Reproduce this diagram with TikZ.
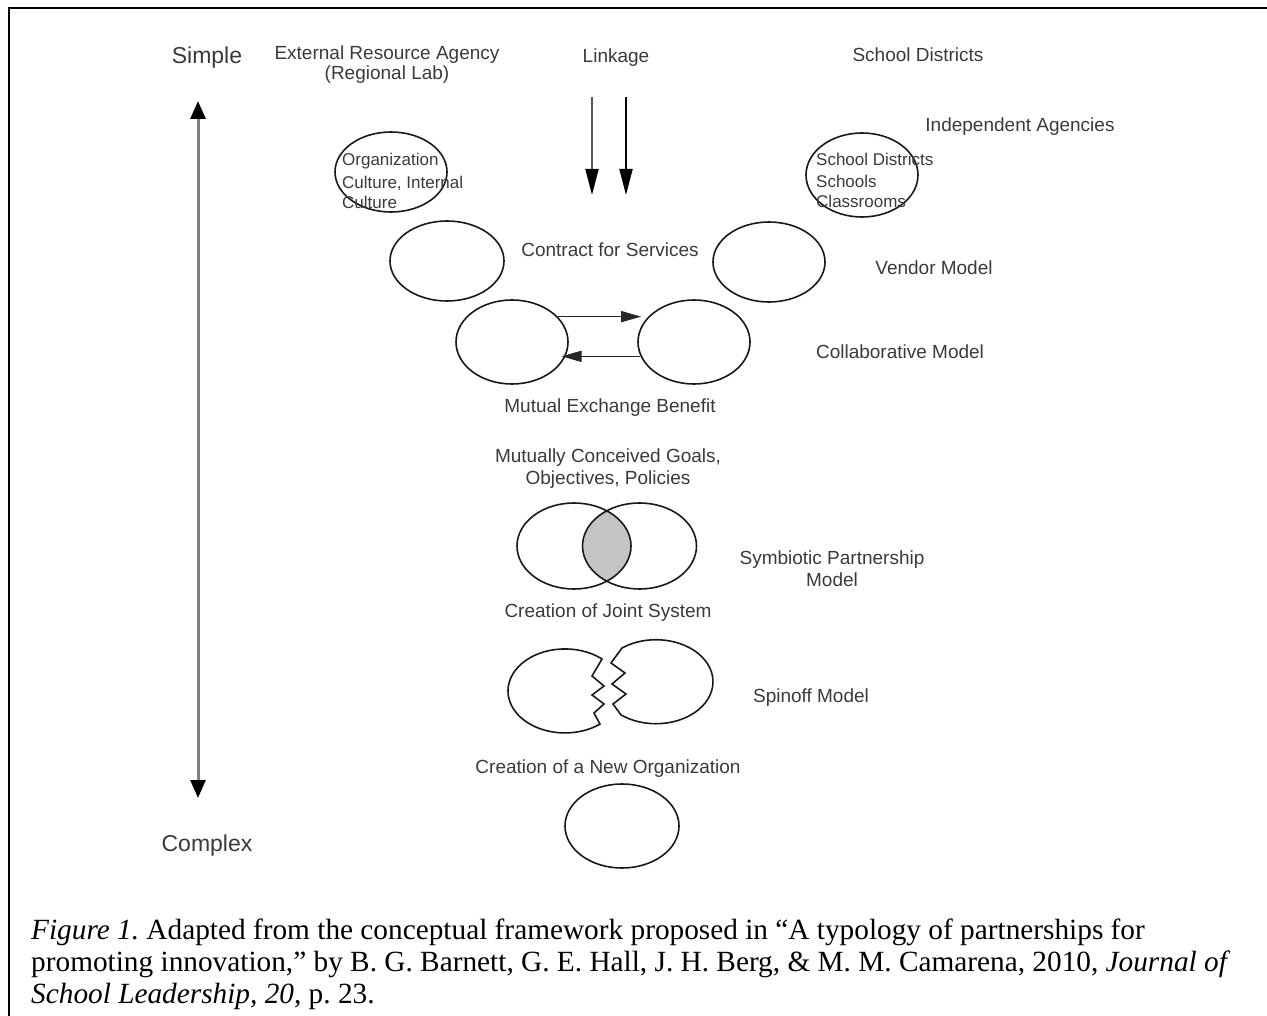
\documentclass[tikz,border=0pt]{standalone}
\usepackage{fontspec}
\setmainfont{Liberation Serif}
\newfontfamily\labfont{Liberation Sans}
\usetikzlibrary{arrows.meta,shapes.geometric}
\definecolor{labgray}{HTML}{3A3A3A}
\definecolor{venngray}{HTML}{C4C4C4}
\frenchspacing
\begin{document}
\begin{tikzpicture}[x=1pt,y=-1pt,
  labtext/.style={font=\labfont\fontsize{19}{22}\selectfont, text=labgray, inner sep=0, anchor=base},
  bigtext/.style={font=\labfont\fontsize{23}{26}\selectfont, text=labgray, inner sep=0, anchor=base},
  smalltext/.style={font=\labfont\fontsize{17}{20}\selectfont, text=labgray, inner sep=0, anchor=base west},
  captext/.style={font=\fontsize{29.3}{33}\selectfont, inner sep=0, anchor=base west},
  ell/.style={ellipse, draw=black!90, line width=1.6pt, minimum width=112pt, minimum height=82pt, inner sep=0},
  outl/.style={draw=black!90, line width=1.6pt, line join=miter},
  arr/.style={line width=1.6pt, draw=black!85},
]
\useasboundingbox (0,0) rectangle (1267,1016);
% frame
\draw[line width=2.5pt] (9,1016) -- (9,8) -- (1267,8);

% top labels
\node[bigtext] (simple) at (207,64) {Simple};
\node[labtext] (era1) at (387,60) {External Resource Agency};
\node[labtext] (era2) at (387,80) {(Regional Lab)};
\node[labtext] (linkage) at (616,63) {Linkage};
\node[labtext] (sd) at (918,62) {School Districts};
\node[labtext] (ia) at (1020,132) {Independent Agencies};
\node[bigtext] (complex) at (207,851) {Complex};

% vertical axis arrow
\coordinate (vtop) at (198,101);
\coordinate (vbot) at (198,798);
\draw[draw=black!50, line width=3pt,
  {Triangle[length=18pt,width=15pt,color=black]}-{Triangle[length=18pt,width=15pt,color=black]}] (vtop) -- (vbot);

% linkage arrows
\coordinate (lk1s) at (592,97); \coordinate (lk1e) at (592,195);
\coordinate (lk2s) at (626,97); \coordinate (lk2e) at (626,195);
\draw[line width=1.8pt, draw=black!65, -{Triangle[length=26pt,width=13pt,color=black]}] (lk1s) -- (lk1e);
\draw[line width=1.8pt, draw=black, -{Triangle[length=26pt,width=13pt,color=black]}] (lk2s) -- (lk2e);

% small ellipses with text
\node[ell, minimum width=112pt, minimum height=80pt] (org) at (391,172) {};
\node[smalltext] (org1) at (342,166) {Organization};
\node[smalltext] (org2) at (342,189) {Culture, Internal};
\node[smalltext] (org3) at (342,209) {Culture};
\node[ell, minimum width=112pt, minimum height=84pt] (sch) at (862,175) {};
\node[smalltext] (sch1) at (816,166) {School Districts};
\node[smalltext] (sch2) at (816,188) {Schools};
\node[smalltext] (sch3) at (816,208) {Classrooms};

% vendor model
\node[ell, minimum width=114pt, minimum height=80pt] (conL) at (447,261) {};
\node[ell, minimum width=112pt, minimum height=80pt] (conR) at (769,262) {};
\node[labtext] (contract) at (610,257) {Contract for Services};
\node[labtext] (vendor) at (934,275) {Vendor Model};

% collaborative model
\node[ell, minimum width=112pt, minimum height=84pt] (colL) at (512,342) {};
\node[ell, minimum width=112pt, minimum height=84pt] (colR) at (694,342) {};
\draw[arr, -{Triangle[length=20pt,width=11pt]}] (colL.29) -- ([xshift=4pt]colL.29 -| colR.west);
\draw[arr, -{Triangle[length=20pt,width=11pt]}] (colR.195) -- ([xshift=-4pt]colL.-15);
\node[labtext] (meb) at (610,412) {Mutual Exchange Benefit};
\node[labtext] (collab) at (900,359) {Collaborative Model};

% symbiotic partnership
\node[labtext] (mcg1) at (608,462) {Mutually Conceived Goals,};
\node[labtext] (mcg2) at (608,484) {Objectives, Policies};
\begin{scope}
  \clip (574,546) ellipse [x radius=57pt, y radius=43pt];
  \fill[venngray] (639.5,546) ellipse [x radius=57pt, y radius=43pt];
\end{scope}
\node[ell, minimum width=114pt, minimum height=86pt] (venL) at (574,546) {};
\node[ell, minimum width=114pt, minimum height=86pt] (venR) at (639.5,546) {};
\node[labtext] (cjs) at (608,617) {Creation of Joint System};
\node[labtext] (sym1) at (832,564) {Symbiotic Partnership};
\node[labtext] (sym2) at (832,586) {Model};

% spinoff
\draw[outl] (602,659) arc[start angle=49.5, end angle=307.9, x radius=57pt, y radius=42pt]
  -- (594,713) -- (604,704) -- (592,695) -- (604,686) -- (592,676) -- cycle;
\draw[outl] (622,648) arc[start angle=126.6, end angle=-127.9, x radius=57pt, y radius=42pt]
  -- (613,704) -- (626,694) -- (612,684) -- (625,673) -- (611,663) -- cycle;
\node[labtext] (spin) at (811,702) {Spinoff Model};
\node[labtext] (cno) at (608,773) {Creation of a New Organization};
\node[ell, minimum width=114pt, minimum height=84pt] (neworg) at (622,826) {};

% caption
\node[captext] (cap1) at (31,939) {\textit{Figure 1.} Adapted from the conceptual framework proposed in “A typology of partnerships for};
\node[captext] (cap2) at (31,971) {promoting innovation,” by B. G. Barnett, G. E. Hall, J. H. Berg, \& M. M. Camarena, 2010, \textit{Journal of}};
\node[captext] (cap3) at (31,1003) {\textit{School Leadership, 20}, p. 23.};
\end{tikzpicture}
\end{document}
